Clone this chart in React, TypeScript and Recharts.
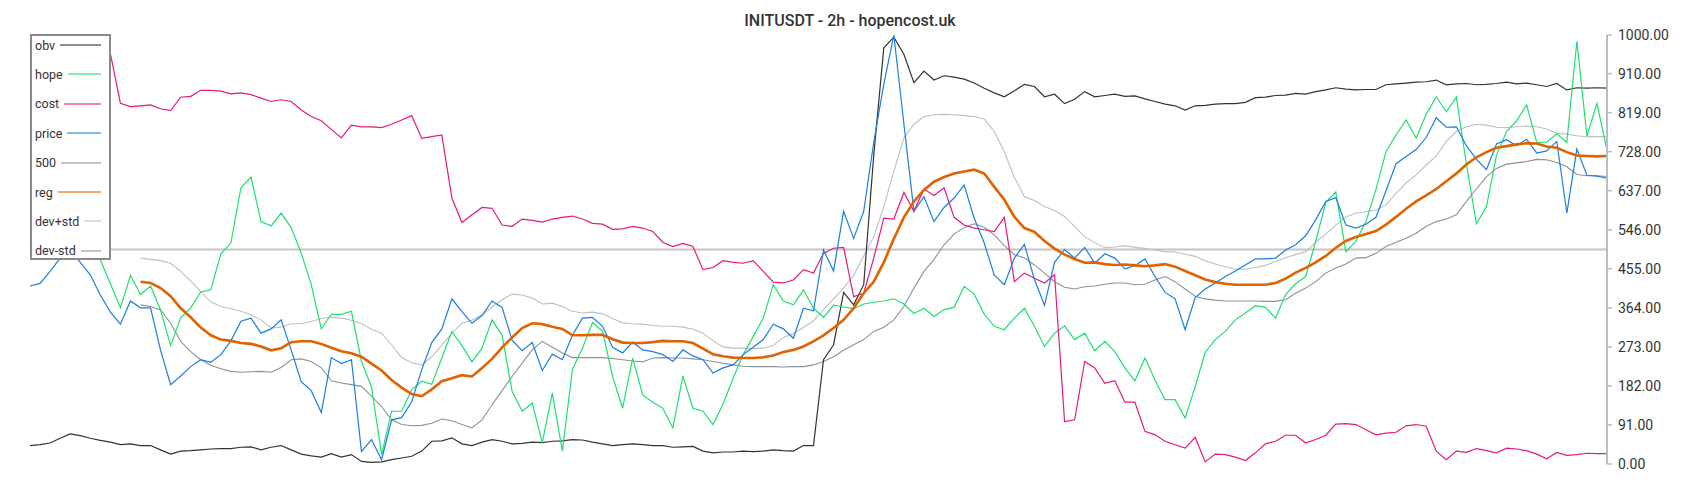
import React from "react";
import { LineChart, Line, XAxis, YAxis, ReferenceLine } from "recharts";

// values (normalised 0..1000), one per 2h step
const obv = [
  43, 45, 49, 60, 70, 66, 60, 55, 51, 45, 47, 43, 43, 33, 23, 30, 31, 33, 35, 36, 36, 39, 40, 33, 39, 43, 33,
  23, 19, 16, 24, 16, 22, 6, 4, 5, 10, 14, 18, 30, 53, 54, 61, 47, 43, 51, 57, 53, 47, 48, 51, 50, 53,
  54, 57, 56, 51, 47, 43, 45, 47, 45, 43, 43, 39, 40, 41, 30, 26, 28, 28, 30, 29, 30, 33, 31, 30, 43, 43,
  243, 278, 400, 371, 418, 720, 970, 995, 955, 889, 916, 895, 905, 902, 897, 888, 876, 865, 856, 870, 885, 880, 856, 862, 840, 850, 868,
  856, 859, 862, 857, 858, 851, 845, 839, 835, 825, 835, 836, 839, 840, 840, 843, 854, 855, 859, 860, 864, 862, 868, 872, 877, 874, 872,
  873, 873, 884, 886, 888, 890, 891, 895, 884, 886, 887, 884, 885, 887, 890, 886, 888, 884, 880, 887, 872, 877, 876, 877, 876,
];

const hope = [
  520, 540, 560, 580, 560, 540, 530, 476, 420, 364, 440, 395, 415, 359, 276, 341, 364, 401, 406, 490, 515, 644, 669, 565, 555, 585, 551,
  492, 418, 315, 349, 349, 356, 239, 180, 22, 123, 123, 173, 193, 186, 247, 309, 276, 238, 270, 336, 300, 169, 123, 142, 50, 165,
  30, 220, 270, 330, 310, 204, 130, 247, 161, 144, 130, 84, 205, 130, 123, 92, 140, 200, 255, 297, 340, 418, 380, 371, 406, 363,
  342, 370, 366, 362, 373, 377, 380, 385, 373, 351, 363, 344, 360, 365, 414, 396, 349, 321, 313, 340, 363, 321, 274, 305, 322, 290, 305,
  264, 286, 262, 224, 194, 247, 196, 150, 150, 107, 180, 260, 290, 309, 336, 352, 369, 365, 340, 395, 420, 437, 519, 610, 634, 495, 519,
  565, 640, 728, 767, 802, 760, 815, 856, 821, 855, 700, 560, 600, 720, 775, 800, 837, 750, 750, 770, 750, 985, 765, 840, 732,
];

const cost = [
  980, 990, 995, 1000, 990, 975, 965, 960, 957, 841, 833, 835, 837, 828, 824, 855, 857, 871, 871, 869, 863, 865, 861, 853, 845, 849, 845,
  825, 810, 800, 780, 760, 790, 786, 786, 784, 792, 802, 812, 759, 763, 767, 620, 563, 581, 598, 596, 557, 554, 571, 568, 564, 571,
  575, 578, 571, 561, 559, 547, 548, 554, 550, 542, 517, 507, 514, 507, 453, 458, 474, 470, 468, 474, 449, 424, 422, 429, 453, 445,
  491, 503, 505, 390, 398, 480, 573, 571, 633, 589, 641, 626, 644, 575, 557, 550, 546, 542, 575, 425, 445, 433, 422, 441, 99, 103, 239,
  224, 188, 194, 144, 144, 76, 68, 53, 45, 37, 62, 5, 23, 22, 16, 8, 26, 47, 53, 67, 67, 49, 57, 67, 93, 94, 92,
  80, 68, 72, 74, 89, 92, 88, 30, 10, 30, 27, 36, 31, 26, 37, 35, 31, 23, 12, 27, 20, 22, 25, 24, 24,
];

const price = [
  415, 421, 449, 480, 499, 470, 441, 394, 354, 326, 380, 364, 364, 265, 185, 205, 227, 243, 237, 255, 287, 333, 340, 305, 315, 336, 266,
  192, 171, 120, 248, 234, 243, 29, 57, 10, 103, 108, 145, 220, 283, 315, 385, 355, 328, 346, 380, 365, 288, 264, 283, 218, 256,
  243, 300, 340, 342, 321, 272, 259, 284, 266, 262, 255, 239, 266, 252, 243, 212, 224, 231, 255, 272, 290, 326, 315, 293, 363, 357,
  499, 450, 589, 526, 589, 750, 885, 1000, 793, 589, 623, 565, 598, 620, 650, 573, 515, 440, 418, 480, 512, 430, 370, 470, 500, 480, 505,
  468, 490, 480, 455, 462, 478, 437, 400, 385, 313, 388, 408, 422, 437, 450, 464, 478, 478, 480, 499, 511, 532, 569, 612, 621, 557, 550,
  559, 575, 637, 700, 717, 733, 761, 807, 785, 786, 742, 710, 686, 746, 756, 742, 757, 725, 730, 752, 585, 734, 673, 671, 666,
];

const LEVEL = 500;

const reg = [
  null, null, null, null, null, null, null, null, null, null, null,
  425, 422, 410, 391, 363, 342, 318, 300, 290, 287, 282, 280, 274, 265, 270, 284,
  286, 286, 280, 271, 263, 258, 250, 234, 218, 196, 178, 163, 158, 174, 193, 200, 207, 204, 224, 245, 272, 295, 317, 328, 326, 320,
  315, 300, 300, 301, 301, 291, 283, 282, 282, 284, 287, 286, 286, 282, 269, 256, 251, 248, 247, 247, 249, 253, 261, 266, 274, 286,
  300, 317, 336, 363, 398, 425, 470, 525, 575, 612, 639, 658, 669, 677, 682, 686, 677, 646, 616, 576, 550, 541, 520, 502, 488, 478, 469,
  470, 466, 464, 465, 463, 461, 463, 466, 460, 450, 440, 430, 424, 420, 418, 418, 418, 418, 422, 432, 446, 457, 470, 485, 504, 520, 529,
  536, 543, 558, 576, 595, 612, 626, 641, 659, 677, 698, 715, 727, 737, 741, 745, 748, 747, 740, 737, 727, 719, 718, 717, 718,
];

const devPlus = [
  null, null, null, null, null, null, null, null, null, null, null,
  480, 477, 474, 468, 449, 427, 401, 378, 367, 362, 356, 348, 336, 317, 319, 327,
  327, 332, 339, 342, 340, 335, 327, 314, 305, 278, 248, 236, 231, 250, 277, 305, 328, 335, 348, 366, 383, 396, 394, 387, 373, 375,
  367, 356, 352, 354, 350, 339, 329, 327, 326, 323, 321, 321, 319, 314, 305, 287, 273, 270, 270, 269, 270, 276, 295, 304, 318, 334,
  360, 385, 410, 440, 485, 530, 600, 682, 760, 792, 810, 814, 815, 814, 812, 810, 804, 775, 728, 668, 623, 614, 600, 591, 577, 554, 530,
  516, 504, 506, 509, 505, 503, 499, 495, 494, 489, 484, 474, 466, 460, 454, 454, 458, 463, 472, 481, 488, 495, 517, 536, 557, 576, 585,
  588, 592, 604, 631, 655, 674, 697, 718, 752, 775, 786, 792, 790, 785, 784, 786, 788, 786, 781, 771, 769, 765, 763, 763, 763,
];

const devMinus = [
  null, null, null, null, null, null, null, null, null, null, null,
  371, 367, 359, 328, 286, 262, 243, 230, 222, 216, 214, 215, 216, 214, 225, 243,
  245, 239, 224, 194, 189, 185, 181, 158, 134, 103, 92, 89, 90, 95, 105, 101, 92, 84, 103, 138, 171, 204, 235, 266, 286, 272,
  259, 248, 248, 248, 248, 246, 243, 240, 238, 247, 248, 247, 247, 245, 243, 239, 235, 231, 228, 227, 227, 227, 226, 227, 227, 231,
  239, 250, 265, 278, 290, 309, 319, 336, 367, 410, 449, 477, 511, 536, 551, 560, 552, 534, 509, 488, 480, 464, 445, 425, 412, 408, 413,
  415, 419, 422, 422, 418, 419, 429, 437, 425, 408, 391, 385, 382, 380, 380, 380, 380, 379, 379, 383, 398, 410, 425, 445, 457, 466, 480,
  481, 491, 507, 517, 526, 538, 554, 565, 571, 581, 612, 641, 670, 689, 699, 702, 705, 710, 709, 703, 693, 675, 672, 672, 670,
];

const TICKS = [0, 91, 182, 273, 364, 455, 546, 637, 728, 819, 910, 1000];

const SERIES = [
  { key: "obv", name: "obv", color: "#333333", width: 1.2 },
  { key: "hope", name: "hope", color: "#1ee06e", width: 1.2 },
  { key: "cost", name: "cost", color: "#e8187c", width: 1.2 },
  { key: "price", name: "price", color: "#1a7ee2", width: 1.2 },
  { key: "level", name: "500", color: "#c4c4c4", width: 1.8 },
  { key: "reg", name: "reg", color: "#e06200", width: 2.6 },
  { key: "devPlus", name: "dev+std", color: "#b9c0c6", width: 1.1 },
  { key: "devMinus", name: "dev-std", color: "#87939c", width: 1.1 },
];

const data = obv.map((v, i) => ({
  i,
  obv: v,
  hope: hope[i],
  cost: cost[i],
  price: price[i],
  reg: reg[i],
  devPlus: devPlus[i],
  devMinus: devMinus[i],
}));

const byKey = (k: string) => SERIES.find((s) => s.key === k)!;

const LegendBox = () => (
  <div
    style={{
      position: "absolute",
      left: 30,
      top: 34,
      width: 81,
      height: 226,
      boxSizing: "border-box",
      border: "2px solid #8a8a8a",
      background: "#fff",
    }}
  >
    {SERIES.map((s, k) => (
      <div
        key={s.key}
        style={{
          position: "absolute",
          left: 3,
          right: 8,
          top: 9 + k * 29.4 - 8,
          height: 16,
          display: "flex",
          alignItems: "center",
        }}
      >
        <span style={{ fontSize: 12.5, color: "#333", whiteSpace: "nowrap" }}>{s.name}</span>
        <span
          style={{
            flex: 1,
            height: 2,
            marginLeft: 5,
            background: s.color,
            opacity: s.key === "level" ? 1 : 0.55,
          }}
        />
      </div>
    ))}
  </div>
);

export default function App() {
  const line = (k: string) => {
    const s = byKey(k);
    return (
      <Line
        key={k}
        type="linear"
        dataKey={k}
        name={s.name}
        stroke={s.color}
        strokeWidth={s.width}
        dot={false}
        activeDot={false}
        isAnimationActive={false}
      />
    );
  };

  return (
    <div
      style={{
        position: "absolute",
        left: 0,
        top: 0,
        width: 1700,
        height: 500,
        background: "#fff",
        fontFamily: "Roboto, sans-serif",
      }}
    >
      <LineChart width={1700} height={500} data={data} margin={{ top: 35, right: 13, bottom: 36, left: 30 }}>
        <XAxis dataKey="i" hide />
        <YAxis
          orientation="right"
          width={80}
          domain={[0, 1000]}
          ticks={TICKS}
          interval={0}
          tickFormatter={(v: number) => v.toFixed(2)}
          axisLine={{ stroke: "#b4bec5", strokeWidth: 2 }}
          tickLine={{ stroke: "#b4bec5", strokeWidth: 1.5 }}
          tick={{ fill: "#333", fontSize: 14 }}
          tickSize={5}
          tickMargin={6}
        />
        <ReferenceLine y={LEVEL} stroke={byKey("level").color} strokeWidth={1.8} />
        {line("devPlus")}
        {line("devMinus")}
        {line("obv")}
        {line("hope")}
        {line("cost")}
        {line("price")}
        {line("reg")}
      </LineChart>
      <div
        style={{
          position: "absolute",
          top: 11,
          left: 0,
          width: 1700,
          textAlign: "center",
          fontSize: 16,
          lineHeight: "19px",
          fontWeight: 500,
          color: "#333",
        }}
      >
        INITUSDT - 2h - hopencost.uk
      </div>
      <LegendBox />
    </div>
  );
}
